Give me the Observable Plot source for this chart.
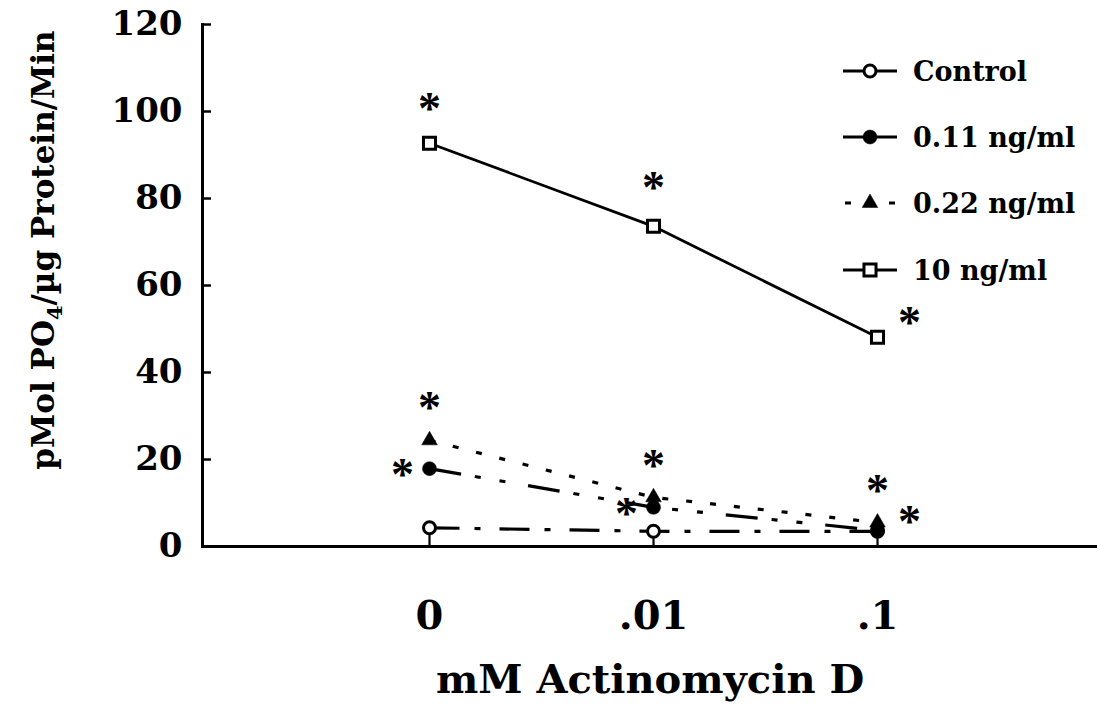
<!DOCTYPE html>
<html><head><meta charset="utf-8">
<script src="https://cdn.jsdelivr.net/npm/d3@7"></script>
<script src="https://cdn.jsdelivr.net/npm/@observablehq/plot@0.6"></script>
<style>
body{margin:0;background:#fff;}
#chart{position:relative;width:1097px;height:715px;}
</style></head><body><div id="chart"></div>
<script>
// ---- data ----
const doses = ["0", ".01", ".1"];
const seriesNames = ["Control", "0.11 ng/ml", "0.22 ng/ml", "10 ng/ml"];
const controlValues = [4.3, 3.5, 3.5];
const ng011Values = [17.9, 9.0, 3.7];
const ng022Values = [24.4, 11.3, 5.5];
const ng10Values = [92.7, 73.6, 48.1];
const yTicks = [0, 20, 40, 60, 80, 100, 120];
// significance asterisks (value = where the asterisk sits, side = relative to the point)
const starSeries = ["10 ng/ml", "10 ng/ml", "10 ng/ml", "0.22 ng/ml", "0.22 ng/ml", "0.22 ng/ml", "0.11 ng/ml", "0.11 ng/ml", "0.11 ng/ml"];
const starDoses  = ["0", ".01", ".1", "0", ".01", ".1", "0", ".01", ".1"];
const starValues = [102, 83.7, 52.7, 33.2, 19.8, 14.0, 17.7, 8.7, 6.9];
const starSides  = ["above", "above", "right", "above", "above", "above", "left", "left", "right"];
const xTitle = "mM Actinomycin D";

// ---- build ----
const valuesBySeries = {"Control": controlValues, "0.11 ng/ml": ng011Values, "0.22 ng/ml": ng022Values, "10 ng/ml": ng10Values};
const rows = seriesNames.flatMap(s => doses.map((d, i) => ({series: s, dose: d, value: valuesBySeries[s][i]})));
const stars = starSeries.map((s, i) => ({series: s, dose: starDoses[i], value: starValues[i], side: starSides[i]}));
const sideDx = {above: 0, left: -27, right: 32};

const styles = {
  "Control":    {dash: "30 15 6 19", symbol: "circle", fill: "white", r: 6},
  "0.11 ng/ml": {dash: "32 14 6 19 6 23", symbol: "circle", fill: "black", r: 7},
  "0.22 ng/ml": {dash: "6 18", symbol: "triangle", fill: "black", r: 5.8},
  "10 ng/ml":   {dash: null, symbol: "square", fill: "white", r: 6.8}
};
const drawOrder = ["Control", "10 ng/ml", "0.11 ng/ml", "0.22 ng/ml"];

const lineMarks = drawOrder.map(s => Plot.line(rows.filter(d => d.series === s), {
  x: "dose", y: "value", stroke: "black", strokeWidth: s === "10 ng/ml" ? 2.8 : 3.2,
  strokeDasharray: styles[s].dash || undefined, strokeLinecap: "butt"
}));
const dotMarks = drawOrder.map(s => Plot.dot(rows.filter(d => d.series === s), {
  x: "dose", y: "value", symbol: () => styles[s].symbol, r: styles[s].r,
  fill: styles[s].fill, stroke: "black", strokeWidth: styles[s].fill === "white" ? 3 : 0.5
}));

const starMarks = ["above", "left", "right"].map(side => Plot.text(stars.filter(d => d.side === side), {
  x: "dose", y: "value", text: () => "*", dx: sideDx[side], dy: 6,
  fontSize: 46, fontWeight: "bold", fontFamily: "Liberation Serif", fill: "black"
}));

const chart = Plot.plot({
  width: 1097, height: 715,
  marginTop: 24, marginBottom: 169, marginLeft: 202, marginRight: 0,
  style: {fontFamily: "DejaVu Serif", fontWeight: "bold", color: "black", background: "white"},
  x: {type: "point", domain: doses, range: [428, 877], padding: 0},
  y: {domain: [0, 120]},
  marks: [
    Plot.axisY({ticks: yTicks, tickSize: 0, tickPadding: 20, fontSize: 34, fontWeight: "bold", label: null}),
    Plot.axisY({ticks: yTicks, tickSize: -9, text: null, strokeWidth: 2.5, label: null}),
    Plot.axisX({tickSize: 0, tickPadding: 54, fontSize: 40, fontWeight: "bold", label: null}),
    Plot.text([xTitle], {frameAnchor: "bottom", dy: 146, fontSize: 40, fontWeight: "bold", text: d => d}),
    Plot.frame({anchor: "left", strokeWidth: 3}),
    Plot.ruleY([0], {strokeWidth: 3}),
    Plot.ruleX(rows.filter(d => d.series === "Control"), {x: "dose", y1: 0, y2: "value", strokeWidth: 2.2}),
    ...lineMarks,
    ...dotMarks,
    ...starMarks
  ]
});
document.getElementById("chart").appendChild(chart);

// ---- y-axis title with subscript ----
const svg = d3.select(chart);
const yt = svg.append("text")
  .attr("transform", "translate(54,250) rotate(-90)")
  .attr("text-anchor", "middle")
  .attr("font-family", "DejaVu Serif").attr("font-weight", "bold").attr("font-size", 31)
  .attr("fill", "black");
yt.append("tspan").text("pMol PO");
yt.append("tspan").attr("font-size", 21).attr("dy", 8).text("4");
yt.append("tspan").attr("dy", -8).text("/µg Protein/Min");

// ---- legend ----
const legendY = [71, 137, 203, 270];
const lg = svg.append("g");
seriesNames.forEach((s, i) => {
  const g = lg.append("g").attr("transform", `translate(870,${legendY[i]})`);
  if (s === "0.22 ng/ml") {
    g.append("line").attr("x1", -25).attr("x2", -19).attr("stroke", "black").attr("stroke-width", 3);
    g.append("line").attr("x1", 19).attr("x2", 25).attr("stroke", "black").attr("stroke-width", 3);
  } else {
    g.append("line").attr("x1", -27).attr("x2", 27).attr("stroke", "black").attr("stroke-width", 3);
  }
  const st = styles[s];
  const sym = st.symbol === "circle" ? d3.symbolCircle : st.symbol === "square" ? d3.symbolSquare : d3.symbolTriangle;
  g.append("path").attr("d", d3.symbol(sym, Math.PI * st.r * st.r)())
    .attr("fill", st.fill).attr("stroke", "black").attr("stroke-width", st.fill === "white" ? 3 : 0.5);
  lg.append("text").attr("x", 913).attr("y", legendY[i]).attr("dy", "0.36em")
    .attr("text-anchor", "start")
    .attr("font-family", "DejaVu Serif").attr("font-weight", "bold").attr("font-size", 27)
    .attr("fill", "black").text(s);
});
</script></body></html>
